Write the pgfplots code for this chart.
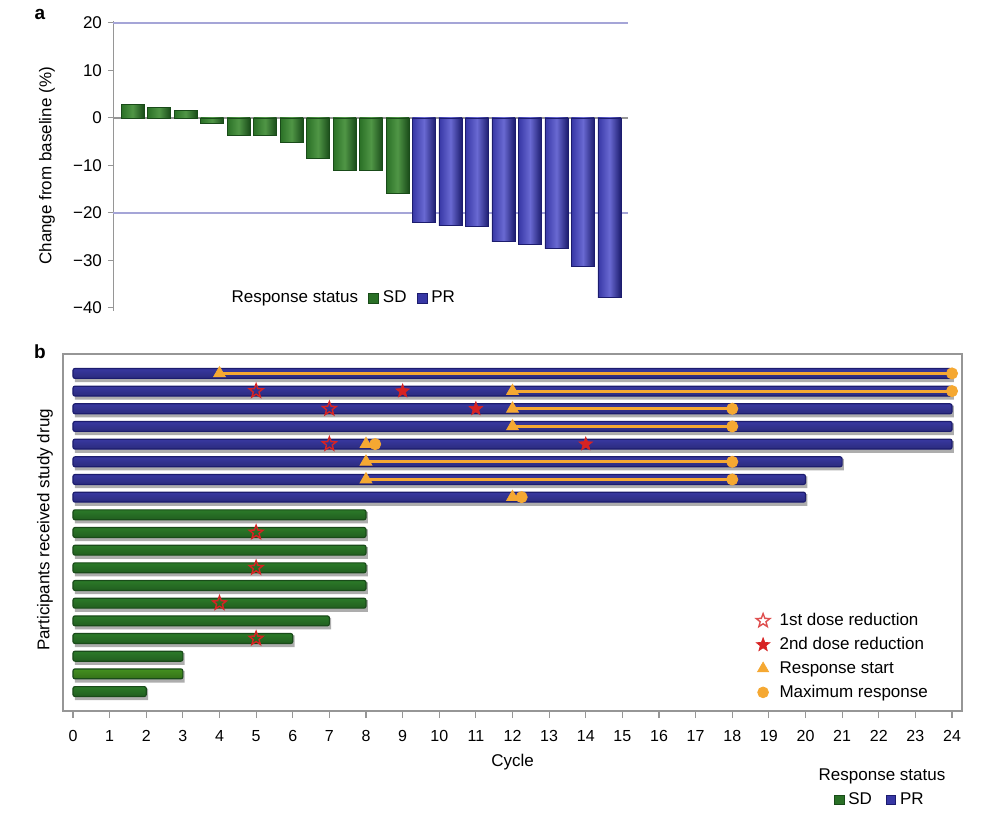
\documentclass[border=0pt]{standalone}
\usepackage{pgfplots}
\pgfplotsset{compat=1.18}
\usepackage{fontspec}
\setmainfont{Liberation Sans}
\usetikzlibrary{plotmarks}

\definecolor{sddark}{RGB}{25,75,25}
\definecolor{sdmid}{RGB}{42,112,38}
\definecolor{sdlight}{RGB}{80,150,70}
\definecolor{sdB}{RGB}{48,135,45}
\definecolor{sdbright}{RGB}{75,160,35}
\definecolor{prdark}{RGB}{28,28,110}
\definecolor{prmid}{RGB}{55,55,165}
\definecolor{prlight}{RGB}{105,105,210}
\definecolor{prB}{RGB}{62,62,178}
\definecolor{myorange}{RGB}{245,168,50}
\definecolor{myred}{RGB}{215,35,35}
\definecolor{lav}{RGB}{165,165,215}
\definecolor{axgray}{RGB}{150,150,150}

\pgfdeclareplotmark{pstar}{%
  \pgfpathmoveto{\pgfpointpolar{90}{\pgfplotmarksize}}%
  \pgfpathlineto{\pgfpointpolar{126}{0.42*\pgfplotmarksize}}%
  \pgfpathlineto{\pgfpointpolar{162}{\pgfplotmarksize}}%
  \pgfpathlineto{\pgfpointpolar{198}{0.42*\pgfplotmarksize}}%
  \pgfpathlineto{\pgfpointpolar{234}{\pgfplotmarksize}}%
  \pgfpathlineto{\pgfpointpolar{270}{0.42*\pgfplotmarksize}}%
  \pgfpathlineto{\pgfpointpolar{306}{\pgfplotmarksize}}%
  \pgfpathlineto{\pgfpointpolar{342}{0.42*\pgfplotmarksize}}%
  \pgfpathlineto{\pgfpointpolar{18}{\pgfplotmarksize}}%
  \pgfpathlineto{\pgfpointpolar{54}{0.42*\pgfplotmarksize}}%
  \pgfpathclose
  \pgfusepathqstroke
}
\pgfdeclareplotmark{pstar*}{%
  \pgfpathmoveto{\pgfpointpolar{90}{\pgfplotmarksize}}%
  \pgfpathlineto{\pgfpointpolar{126}{0.42*\pgfplotmarksize}}%
  \pgfpathlineto{\pgfpointpolar{162}{\pgfplotmarksize}}%
  \pgfpathlineto{\pgfpointpolar{198}{0.42*\pgfplotmarksize}}%
  \pgfpathlineto{\pgfpointpolar{234}{\pgfplotmarksize}}%
  \pgfpathlineto{\pgfpointpolar{270}{0.42*\pgfplotmarksize}}%
  \pgfpathlineto{\pgfpointpolar{306}{\pgfplotmarksize}}%
  \pgfpathlineto{\pgfpointpolar{342}{0.42*\pgfplotmarksize}}%
  \pgfpathlineto{\pgfpointpolar{18}{\pgfplotmarksize}}%
  \pgfpathlineto{\pgfpointpolar{54}{0.42*\pgfplotmarksize}}%
  \pgfpathclose
  \pgfusepathqfillstroke
}

\pgfplotsset{
  sdv/.style={ybar, bar width=0.87, draw=sddark, line width=0.3pt, left color=sdmid, right color=sddark, middle color=sdlight, forget plot},
  prv/.style={ybar, bar width=0.87, draw=prdark, line width=0.3pt, left color=prmid, right color=prdark, middle color=prlight, forget plot},
  prh/.style={xbar, bar width=0.56, draw=prdark, line width=0.6pt, top color=prB!90!black, middle color=prB, bottom color=prB!70!black, rounded corners=1pt, forget plot},
  sdh/.style={xbar, bar width=0.56, draw=sddark, line width=0.6pt, top color=sdB!90!black, middle color=sdB, bottom color=sdB!70!black, rounded corners=1pt, forget plot},
  sdhb/.style={xbar, bar width=0.56, draw=sddark, line width=0.6pt, top color=sdbright!90!black, middle color=sdbright, bottom color=sdbright!70!black, rounded corners=1pt, forget plot},
  respline/.style={myorange, line width=1.4pt, forget plot},
}

\begin{document}
\fontsize{8.5}{10}\selectfont
\begin{tikzpicture}
\path[use as bounding box] (0pt,0pt) rectangle (500pt,408.5pt);

\node[font=\bfseries\fontsize{9.5}{11}\selectfont] at (20pt,401.5pt) {a};
\node[font=\bfseries\fontsize{9.5}{11}\selectfont] at (20pt,232.5pt) {b};

% ---------------- panel a ----------------
\begin{axis}[
  at={(56.5pt,253.1pt)}, anchor=south west,
  scale only axis, width=257.5pt, height=144.9pt,
  xmin=0.26, xmax=19.7, ymin=-40.6, ymax=20.4,
  axis x line=none, axis y line*=left,
  axis line style={axgray, line width=0.5pt, -},
  ytick={-40,-30,-20,-10,0,10,20},
  yticklabels={−40,−30,−20,−10,0,10,20},
  tick align=outside, major tick length=2.5pt,
  tick style={axgray, line width=0.5pt},
  yticklabel style={font=\fontsize{8.5}{10}\selectfont},
  ylabel={Change from baseline (\%)},
  every axis y label/.style={at={(axis description cs:-0.128,0.5)}, rotate=90, anchor=center},
  legend columns=-1,
  legend style={at={(axis description cs:0.21,0.044)}, anchor=west, draw=none, fill=none,
    font=\fontsize{8.5}{10}\selectfont, /tikz/every even column/.append style={column sep=3pt}},
  clip=false,
]
\draw[lav, line width=0.8pt] (axis cs:0.26,20) -- (axis cs:19.7,20);
\draw[lav, line width=0.8pt] (axis cs:0.26,-20) -- (axis cs:19.7,-20);
\draw[axgray, line width=0.6pt] (axis cs:0.26,0) -- (axis cs:19.7,0);
\addplot[sdv] coordinates {(1,2.8)};
\addplot[sdv] coordinates {(2,2.2)};
\addplot[sdv] coordinates {(3,1.6)};
\addplot[sdv] coordinates {(4,-1.2)};
\addplot[sdv] coordinates {(5,-3.6)};
\addplot[sdv] coordinates {(6,-3.7)};
\addplot[sdv] coordinates {(7,-5.2)};
\addplot[sdv] coordinates {(8,-8.4)};
\addplot[sdv] coordinates {(9,-11.0)};
\addplot[sdv] coordinates {(10,-11.1)};
\addplot[sdv] coordinates {(11,-15.8)};
\addplot[prv] coordinates {(12,-21.9)};
\addplot[prv] coordinates {(13,-22.7)};
\addplot[prv] coordinates {(14,-22.8)};
\addplot[prv] coordinates {(15,-26.0)};
\addplot[prv] coordinates {(16,-26.7)};
\addplot[prv] coordinates {(17,-27.4)};
\addplot[prv] coordinates {(18,-31.3)};
\addplot[prv] coordinates {(19,-37.8)};
\addlegendimage{empty legend}
\addlegendentry{Response status}
\addlegendimage{legend image code/.code={\draw[fill=sdmid,draw=sddark,line width=0.4pt] (0pt,-2.5pt) rectangle (5pt,2.5pt);}}
\addlegendentry{SD}
\addlegendimage{legend image code/.code={\draw[fill=prmid,draw=prdark,line width=0.4pt] (0pt,-2.5pt) rectangle (5pt,2.5pt);}}
\addlegendentry{PR}
\end{axis}

% ---------------- panel b ----------------
\begin{axis}[
  at={(31.5pt,53pt)}, anchor=south west,
  scale only axis, width=449.5pt, height=178.5pt,
  xmin=-0.273, xmax=24.273, ymin=-0.1, ymax=20.1,
  xtick={0,1,...,24}, ytick=\empty, xtick pos=left,
  axis line style={axgray, line width=0.7pt},
  tick align=outside, major tick length=3.6pt,
  tick style={axgray, line width=0.6pt},
  /pgf/number format/assume math mode=true,
  xticklabel style={font=\fontsize{8}{9.5}\selectfont, yshift=-3pt},
  xlabel={Cycle},
  every axis x label/.style={at={(axis description cs:0.5,-0.143)}, anchor=center},
  ylabel={Participants received study drug},
  every axis y label/.style={at={(axis description cs:-0.02,0.507)}, rotate=90, anchor=center},
  legend style={at={(axis description cs:0.764,0.297)}, anchor=north west, draw=none, fill=none,
    font=\fontsize{8.5}{10}\selectfont, row sep=0.6pt,
    /tikz/every odd column/.append style={column sep=2.8pt}},
  legend cell align=left,
  clip=false,
]
% shadows
\addplot[xbar, bar width=0.66, fill=black, draw=none, opacity=0.32, xshift=0.9pt, yshift=-1.4pt, forget plot]
 coordinates {(24,19) (24,18) (24,17) (24,16) (24,15) (21,14) (20,13) (20,12)
  (8,11) (8,10) (8,9) (8,8) (8,7) (8,6) (7,5) (6,4) (3,3) (3,2) (2,1)};
% PR bars
\addplot[prh] coordinates {(24,19)};
\addplot[prh] coordinates {(24,18)};
\addplot[prh] coordinates {(24,17)};
\addplot[prh] coordinates {(24,16)};
\addplot[prh] coordinates {(24,15)};
\addplot[prh] coordinates {(21,14)};
\addplot[prh] coordinates {(20,13)};
\addplot[prh] coordinates {(20,12)};
% SD bars
\addplot[sdh] coordinates {(8,11)};
\addplot[sdh] coordinates {(8,10)};
\addplot[sdh] coordinates {(8,9)};
\addplot[sdh] coordinates {(8,8)};
\addplot[sdh] coordinates {(8,7)};
\addplot[sdh] coordinates {(8,6)};
\addplot[sdh] coordinates {(7,5)};
\addplot[sdh] coordinates {(6,4)};
\addplot[sdh] coordinates {(3,3)};
\addplot[sdhb] coordinates {(3,2)};
\addplot[sdh] coordinates {(2,1)};
% response lines
\addplot[respline] coordinates {(4,19) (24,19)};
\addplot[respline] coordinates {(12,18) (24,18)};
\addplot[respline] coordinates {(12,17) (18,17)};
\addplot[respline] coordinates {(12,16) (18,16)};
\addplot[respline] coordinates {(8,14) (18,14)};
\addplot[respline] coordinates {(8,13) (18,13)};
% markers
\addplot[only marks, mark=pstar, mark size=3.6pt, mark options={draw=myred, line width=0.7pt}, forget plot]
 coordinates {(5,18) (7,17) (7,15) (5,10) (5,8) (4,6) (5,4)};
\addplot[only marks, mark=pstar*, mark size=3.6pt, mark options={draw=myred, fill=myred, line width=0.3pt}, forget plot]
 coordinates {(9,18) (11,17) (14,15)};
\addplot[only marks, mark=*, mark size=2.8pt, mark options={draw=myorange, fill=myorange}, forget plot]
 coordinates {(24,19) (24,18) (18,17) (18,16) (8.25,15) (18,14) (18,13) (12.25,12)};
\addplot[only marks, mark=triangle*, mark size=3.4pt, mark options={draw=myorange, fill=myorange}, forget plot]
 coordinates {(4,19) (12,18) (12,17) (12,16) (8,15) (8,14) (8,13) (12,12)};
\addlegendimage{only marks, mark=pstar, mark size=3.6pt, mark options={draw=myred!80!white, line width=0.7pt}}
\addlegendentry{1st dose reduction}
\addlegendimage{only marks, mark=pstar*, mark size=3.6pt, mark options={draw=myred, fill=myred, line width=0.3pt}}
\addlegendentry{2nd dose reduction}
\addlegendimage{only marks, mark=triangle*, mark size=3.2pt, mark options={draw=myorange, fill=myorange}}
\addlegendentry{Response start}
\addlegendimage{only marks, mark=*, mark size=2.7pt, mark options={draw=myorange, fill=myorange}}
\addlegendentry{Maximum response}
\end{axis}

% ---------------- bottom legend ----------------
\node at (441pt,20.5pt) {Response status};
\begin{axis}[
  at={(440.5pt,8.5pt)}, anchor=center,
  hide axis, scale only axis, width=10pt, height=5pt,
  xmin=0, xmax=1, ymin=0, ymax=1,
  legend columns=-1,
  legend style={at={(0.5,0.5)}, anchor=center, draw=none, fill=none,
    font=\fontsize{8.5}{10}\selectfont, /tikz/every even column/.append style={column sep=5pt}},
]
\addlegendimage{legend image code/.code={\draw[fill=sdmid,draw=sddark,line width=0.4pt] (0pt,-2.3pt) rectangle (4.6pt,2.3pt);}}
\addlegendentry{SD}
\addlegendimage{legend image code/.code={\draw[fill=prmid,draw=prdark,line width=0.4pt] (0pt,-2.3pt) rectangle (4.6pt,2.3pt);}}
\addlegendentry{PR}
\end{axis}
\end{tikzpicture}
\end{document}
